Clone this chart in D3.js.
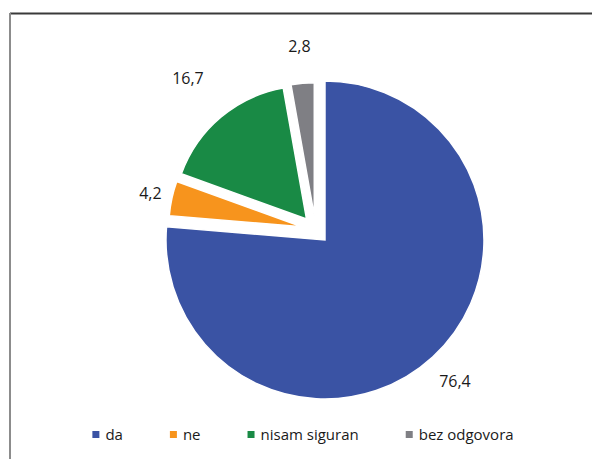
<!DOCTYPE html>
<html>
<head>
<meta charset="utf-8">
<script src="https://cdn.jsdelivr.net/npm/d3@7"></script>
<style>
  html, body { margin: 0; padding: 0; background: #fff; }
  svg { display: block; font-family: "Open Sans", "Liberation Sans", sans-serif; }
</style>
</head>
<body>
<div id="chart"></div>
<script>
const categories = ["da", "ne", "nisam siguran", "bez odgovora"]
const values = [76.4, 4.2, 16.7, 2.8]
const colors = ["#3a53a4", "#f7941d", "#198a45", "#7f7f84"]

const width = 592
const height = 459

// pie layout (Excel style: every slice pulled out, small ones drawn smaller)
const cx = 315.5
const cy = 229.7
const explode = 14
const rBig = 159
const rSmall = 133
const labelPad = [33, 22, 51, 37]

const fmt = d3.formatLocale({ decimal: ",", thousands: ".", grouping: [3], currency: ["", ""] }).format(".1f")

const svg = d3.select("#chart")
  .append("svg")
  .attr("width", width)
  .attr("height", height)

// frame (top + left edges only visible)
svg.append("line")
  .attr("x1", 10).attr("y1", 13.5).attr("x2", width).attr("y2", 13.5)
  .attr("stroke", "#3a3a3a").attr("stroke-width", 2)
svg.append("line")
  .attr("x1", 10).attr("y1", 13).attr("x2", 10).attr("y2", height)
  .attr("stroke", "#8c8c8c").attr("stroke-width", 2)

const pie = d3.pie().sort(null).value(d => d)
const arcs = pie(values)

const radius = d => d.index === 0 ? rBig : rSmall
const arc = d3.arc().innerRadius(0).outerRadius(radius)

const mid = d => (d.startAngle + d.endAngle) / 2
const offset = (d, r) => [Math.sin(mid(d)) * r, -Math.cos(mid(d)) * r]

const g = svg.append("g").attr("transform", `translate(${cx},${cy})`)

g.selectAll("g.slice")
  .data(arcs)
  .enter()
  .append("g")
  .attr("class", "slice")
  .attr("transform", d => `translate(${offset(d, explode)})`)
  .call(parent => {
    parent.append("path")
      .attr("d", arc)
      .attr("fill", (d, i) => colors[i])
      .attr("stroke", "#fff")
      .attr("stroke-width", 1.5)
      .attr("stroke-linejoin", "miter")
    parent.append("text")
      .attr("transform", (d, i) => `translate(${offset(d, radius(d) + labelPad[i])})`)
      .attr("text-anchor", "middle")
      .attr("dy", "0.35em")
      .attr("font-size", 16)
      .attr("fill", "#1a1a1a")
      .text(d => fmt(d.data))
  })

// legend
const legend = svg.append("g").attr("transform", "translate(0,440)")
const items = legend.selectAll("g.item")
  .data(categories)
  .enter()
  .append("g")
  .attr("class", "item")

items.append("rect")
  .attr("y", -9)
  .attr("width", 7)
  .attr("height", 7)
  .attr("fill", (d, i) => colors[i])

items.append("text")
  .attr("x", 13)
  .attr("font-size", 15)
  .attr("fill", "#1a1a1a")
  .text(d => d)

let x = 0
const gap = 47
items.each(function () {
  const w = 13 + this.querySelector("text").getComputedTextLength()
  d3.select(this).attr("data-x", x)
  x += w + gap
})
const total = x - gap
const start = 303 - total / 2
items.attr("transform", function () { return `translate(${start + +this.getAttribute("data-x")},0)` })
</script>
</body>
</html>
